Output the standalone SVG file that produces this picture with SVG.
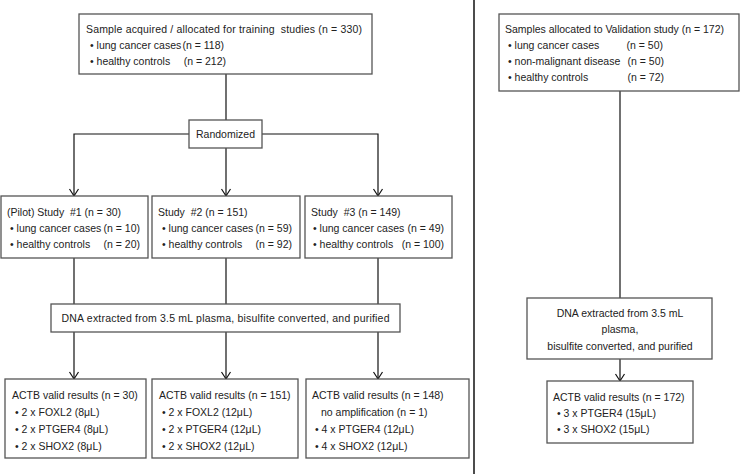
<svg xmlns="http://www.w3.org/2000/svg" width="741" height="474" viewBox="0 0 741 474">
<style>
  text { font-family: "Liberation Sans", Arial, sans-serif; font-size: 10.5px; fill: #222; white-space: pre; }
  .box { fill: #fff; stroke: #555; stroke-width: 1.3; }
  .conn { fill: none; stroke: #111; stroke-width: 1.2; }
  .mid { text-anchor: middle; }
  .end { text-anchor: end; }
</style>
<defs>
  <marker id="arr" markerUnits="userSpaceOnUse" markerWidth="12" markerHeight="12" viewBox="-9 -6 10 12" refX="0" refY="0" orient="auto">
    <path d="M-7,-4.5 L0,0 L-7,4.5" fill="none" stroke="#111" stroke-width="1.2"/>
  </marker>
</defs>
<rect width="741" height="474" fill="#fff"/>

<g id="connectors">
  <line class="conn" x1="226" y1="74" x2="226" y2="120"/>
  <polyline class="conn" points="189,134 74,134 74,196" marker-end="url(#arr)"/>
  <polyline class="conn" points="262,134 378,134 378,196" marker-end="url(#arr)"/>
  <line class="conn" x1="226" y1="148" x2="226" y2="196" marker-end="url(#arr)"/>
  <line class="conn" x1="74" y1="258" x2="74" y2="379" marker-end="url(#arr)"/>
  <line class="conn" x1="226" y1="258" x2="226" y2="379" marker-end="url(#arr)"/>
  <line class="conn" x1="378" y1="258" x2="378" y2="379" marker-end="url(#arr)"/>
  <line class="conn" x1="620" y1="91" x2="620" y2="298"/>
  <line class="conn" x1="620" y1="359" x2="620" y2="381" marker-end="url(#arr)"/>
  <line x1="474" y1="0" x2="474" y2="474" stroke="#111" stroke-width="1.5"/>
</g>

<g id="training-samples">
  <rect class="box" x="79" y="14" width="293" height="60"/>
  <text x="86" y="33" textLength="276" lengthAdjust="spacing">Sample acquired / allocated for training  studies (n = 330)</text>
  <text x="90" y="49">• lung cancer cases</text>
  <text class="end" x="224" y="49">(n = 118)</text>
  <text x="90" y="65">• healthy controls</text>
  <text class="end" x="226" y="65">(n = 212)</text>
</g>

<g id="randomized">
  <rect class="box" x="189" y="120" width="73" height="28"/>
  <text class="mid" x="225.5" y="138">Randomized</text>
</g>

<g id="study1">
  <rect class="box" x="1" y="196" width="147" height="62"/>
  <text x="7" y="216">(Pilot) Study  #1 (n = 30)</text>
  <text x="10" y="232">• lung cancer cases</text>
  <text class="end" x="140" y="232">(n = 10)</text>
  <text x="10" y="248">• healthy controls</text>
  <text class="end" x="140" y="248">(n = 20)</text>
</g>

<g id="study2">
  <rect class="box" x="152" y="196" width="148" height="62"/>
  <text x="158" y="216">Study  #2 (n = 151)</text>
  <text x="162" y="232">• lung cancer cases</text>
  <text class="end" x="292" y="232">(n = 59)</text>
  <text x="162" y="248">• healthy controls</text>
  <text class="end" x="292" y="248">(n = 92)</text>
</g>

<g id="study3">
  <rect class="box" x="305" y="196" width="147" height="62"/>
  <text x="311" y="216">Study  #3 (n = 149)</text>
  <text x="313" y="232">• lung cancer cases</text>
  <text class="end" x="444" y="232">(n = 49)</text>
  <text x="313" y="248">• healthy controls</text>
  <text class="end" x="444" y="248">(n = 100)</text>
</g>

<g id="dna-training">
  <rect class="box" x="51" y="304" width="349" height="28"/>
  <text class="mid" x="225.5" y="322" textLength="328" lengthAdjust="spacing">DNA extracted from 3.5 mL plasma, bisulfite converted, and purified</text>
</g>

<g id="results1">
  <rect class="box" x="5" y="379" width="141" height="79"/>
  <text x="12" y="399">ACTB valid results (n = 30)</text>
  <text x="15" y="416">• 2 x FOXL2 (8μL)</text>
  <text x="15" y="433">• 2 x PTGER4 (8μL)</text>
  <text x="15" y="450">• 2 x SHOX2 (8μL)</text>
</g>

<g id="results2">
  <rect class="box" x="152" y="379" width="146" height="79"/>
  <text x="159" y="399">ACTB valid results (n = 151)</text>
  <text x="162" y="416">• 2 x FOXL2 (12μL)</text>
  <text x="162" y="433">• 2 x PTGER4 (12μL)</text>
  <text x="162" y="450">• 2 x SHOX2 (12μL)</text>
</g>

<g id="results3">
  <rect class="box" x="306" y="379" width="163" height="79"/>
  <text x="312" y="399">ACTB valid results (n = 148)</text>
  <text x="321" y="416">no amplification (n = 1)</text>
  <text x="315" y="433">• 4 x PTGER4 (12μL)</text>
  <text x="315" y="450">• 4 x SHOX2 (12μL)</text>
</g>

<g id="validation-samples">
  <rect class="box" x="499" y="14" width="240" height="77"/>
  <text x="505" y="33">Samples allocated to Validation study (n = 172)</text>
  <text x="508" y="49">• lung cancer cases</text>
  <text class="end" x="663" y="49">(n = 50)</text>
  <text x="508" y="65">• non-malignant disease</text>
  <text class="end" x="664" y="65">(n = 50)</text>
  <text x="508" y="81">• healthy controls</text>
  <text class="end" x="664" y="81">(n = 72)</text>
</g>

<g id="dna-validation">
  <rect class="box" x="527" y="298" width="185" height="61"/>
  <text class="mid" x="620" y="317">DNA extracted from 3.5 mL</text>
  <text class="mid" x="620" y="333">plasma,</text>
  <text class="mid" x="620" y="350">bisulfite converted, and purified</text>
</g>

<g id="results-validation">
  <rect class="box" x="547" y="381" width="146" height="62"/>
  <text x="553" y="401">ACTB valid results (n = 172)</text>
  <text x="557" y="417">• 3 x PTGER4 (15μL)</text>
  <text x="557" y="433">• 3 x SHOX2 (15μL)</text>
</g>
</svg>
